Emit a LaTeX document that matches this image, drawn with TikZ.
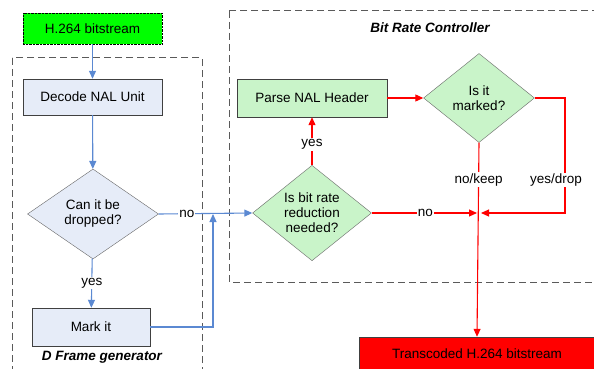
\documentclass[tikz,border=0pt]{standalone}
\usepackage{fontspec}
\setmainfont{Liberation Sans}
\usetikzlibrary{arrows.meta,positioning,shapes.geometric}
\definecolor{flowblue}{HTML}{5B89D2}
\definecolor{bluefill}{HTML}{E6ECF8}
\definecolor{greenfill}{HTML}{C9F4C9}
\definecolor{srcgreen}{HTML}{00FF00}
\definecolor{outred}{HTML}{FF0000}
\definecolor{framegray}{HTML}{5A5A5A}
\definecolor{edgegray}{HTML}{404040}

\begin{document}
\begin{tikzpicture}[
    x=1pt, y=-1pt,
    font=\fontsize{13.5}{15}\selectfont,
    box/.style={
        draw=edgegray,
        minimum width=139pt,
        minimum height=36pt,
        align=center,
        inner sep=0pt
    },
    decision/.style={
        draw=edgegray!80,
        diamond,
        align=center,
        inner sep=0pt
    },
    frame/.style={
        draw=framegray,
        dash pattern=on 7pt off 4pt,
        line width=1pt
    },
    lbl/.style={fill=white, inner sep=1pt},
    title/.style={font=\fontsize{13.5}{15}\selectfont\bfseries\itshape},
    bluearr/.style={-{Triangle[length=8pt,width=7pt]}, draw=flowblue, line width=1.1pt},
    redarr/.style={-{Triangle[length=8pt,width=7pt]}, draw=outred, line width=1.1pt}
]
    \useasboundingbox (0,0) rectangle (594,369);
    \clip (0,0) rectangle (594,369);

    %% Rahmen
    \draw[frame] (12,58) rectangle (202,385);
    \draw[frame] (229,11) rectangle (605,282);
    \node[title] (dlabel) at (102,357) {D Frame generator};
    \node[title] (brclabel) at (430,28) {Bit Rate Controller};

    %% D Frame generator
    \node[box, draw=black, densely dotted, fill=srcgreen, minimum height=31pt] (input) at (92.5,28.5) {H.264 bitstream};
    \node[box, fill=bluefill] (decode) at (92.5,97) {Decode NAL Unit};
    \node[decision, fill=bluefill, minimum width=131pt, minimum height=90pt] (drop) at (93,214) {Can it be\\dropped?};
    \node[box, fill=bluefill, minimum width=118pt, minimum height=38pt] (mark) at (91,327) {Mark it};

    %% Bit Rate Controller
    \node[box, fill=greenfill, minimum width=150pt, minimum height=38pt] (parse) at (312,98) {Parse NAL Header};
    \node[decision, fill=greenfill, minimum width=111pt, minimum height=89pt] (marked) at (479,98) {Is it\\marked?};
    \node[decision, fill=greenfill, minimum width=119pt, minimum height=90pt] (reduce) at (312,213) {Is bit rate\\reduction\\needed?};
    \node[box, fill=outred, minimum width=236pt, minimum height=34pt] (output) at (477,354) {Transcoded H.264 bitstream};

    \coordinate (blueup) at (213,214);
    \coordinate (join) at (479,213);
    \coordinate (dropturn) at (565,213);

    %% Pfeile
    \draw[bluearr] (input) -- (decode);
    \draw[bluearr] (decode) -- (drop);
    \draw[bluearr] (drop) -- node[lbl] {yes} (mark);
    \draw[bluearr] (drop.east) -- node[lbl, pos=0.3] {no} (reduce.west);
    \draw[bluearr] (mark.east) -| (blueup);

    \draw[redarr] (reduce) -- node[lbl, pos=0.43] {yes} (parse);
    \draw[redarr] (parse) -- (marked);
    \draw[redarr, shorten >=2pt] (reduce.east) -- node[lbl] {no} (join);
    \draw[redarr, shorten >=2pt] (marked.east) -| node[lbl, pos=0.857, xshift=-9pt] {yes/drop} (dropturn) -- (join);
    \draw[redarr] (marked.south) -- node[lbl, pos=0.19] {no/keep} (output.north);
\end{tikzpicture}
\end{document}
